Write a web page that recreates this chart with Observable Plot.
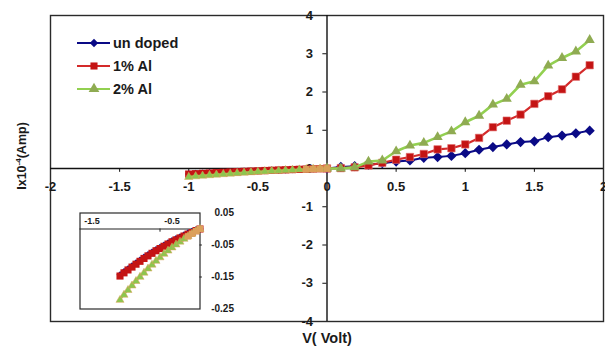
<!DOCTYPE html>
<html>
<head>
<meta charset="utf-8">
<script src="https://cdn.jsdelivr.net/npm/d3@7"></script>
<script src="https://cdn.jsdelivr.net/npm/@observablehq/plot@0.6"></script>
<style>
  html, body { margin: 0; padding: 0; background: white; }
  #chart { position: relative; width: 605px; height: 352px; overflow: hidden; background: white; }
</style>
</head>
<body>
<div id="chart"></div>
<script>
// ---- data ----
const seriesNames = ["un doped", "1% Al", "2% Al"];
const vPos = [0, 0.1, 0.2, 0.3, 0.4, 0.5, 0.6, 0.7, 0.8, 0.9, 1.0, 1.1, 1.2, 1.3, 1.4, 1.5, 1.6, 1.7, 1.8, 1.9];
const undopedPos = [0, 0.04, 0.06, 0.10, 0.14, 0.18, 0.21, 0.28, 0.30, 0.33, 0.40, 0.49, 0.56, 0.63, 0.69, 0.71, 0.82, 0.86, 0.92, 0.99];
const al1Pos = [0, 0.01, 0.03, 0.08, 0.15, 0.23, 0.30, 0.38, 0.50, 0.53, 0.63, 0.80, 1.08, 1.25, 1.41, 1.69, 1.89, 2.07, 2.40, 2.70];
const al2Pos = [0, 0.0, 0.03, 0.18, 0.21, 0.45, 0.60, 0.67, 0.82, 0.97, 1.21, 1.38, 1.67, 1.82, 2.19, 2.28, 2.69, 2.89, 3.06, 3.36];

const vNeg = [-1.0, -0.95, -0.9, -0.85, -0.8, -0.75, -0.7, -0.65, -0.6, -0.55, -0.5, -0.45, -0.4, -0.35, -0.3, -0.25, -0.2, -0.15, -0.1, -0.05, 0];
const undopedNeg = [-0.143, -0.133, -0.124, -0.115, -0.106, -0.097, -0.088, -0.080, -0.072, -0.064, -0.057, -0.050, -0.043, -0.036, -0.030, -0.024, -0.018, -0.012, -0.007, -0.002, 0];
const al1Neg = [-0.147, -0.137, -0.128, -0.119, -0.110, -0.101, -0.092, -0.084, -0.076, -0.068, -0.061, -0.054, -0.047, -0.040, -0.034, -0.028, -0.022, -0.016, -0.011, -0.005, 0];
const al2Neg = [-0.222, -0.206, -0.191, -0.177, -0.163, -0.150, -0.137, -0.124, -0.112, -0.100, -0.089, -0.078, -0.068, -0.058, -0.049, -0.040, -0.031, -0.023, -0.015, -0.007, 0];
const orangeX = [-0.15, -0.1, -0.05, 0];
const orangeY = [-0.023, -0.015, -0.007, 0];

const xTicks = [-1.5, -1, -0.5, 0.5, 1, 1.5];
const xTickLabels = [-2, -1.5, -1, -0.5, 0, 0.5, 1, 1.5, 2];
const yTicks = [-3, -2, -1, 1, 2, 3];
const yTickLabels = [-4, -3, -2, -1, 0, 1, 2, 3, 4];
const insetXTickLabels = [-1.5, -0.5];
const insetYTickLabels = [0.05, -0.05, -0.15, -0.25];

const colors = { blue: "#0a0a86", red: "#c41414", redLine: "#d42a2a", green: "#8fab52", greenBright: "#8cc64e", greenLine: "#92d050", orange: "#dca05a" };

// ---- tables ----
const toRows = (xs, ys) => xs.map((x, i) => ({ x, y: ys[i] }));
const blueNeg = toRows(vNeg, undopedNeg), bluePos = toRows(vPos, undopedPos);
const redNeg = toRows(vNeg, al1Neg), redPos = toRows(vPos, al1Pos);
const greenNeg = toRows(vNeg, al2Neg), greenPos = toRows(vPos, al2Pos);
const orangeRows = toRows(orangeX, orangeY);
const blueAll = blueNeg.concat(bluePos.slice(1));
const redAll = redNeg.concat(redPos.slice(1));
const greenAll = greenNeg.concat(greenPos.slice(1));
const fmt = d => String(d);

const font = "'Liberation Sans', Arial, Helvetica, sans-serif";

const main = Plot.plot({
  width: 605, height: 352,
  marginLeft: 50, marginRight: 2, marginTop: 15, marginBottom: 31,
  x: { domain: [-2, 2], axis: null },
  y: { domain: [-4, 4], axis: null },
  style: { fontFamily: font, fontWeight: "bold", fontSize: "13px", background: "white", color: "#1a1a1a", overflow: "visible" },
  marks: [
    Plot.frame({ stroke: "#2a2a2a", strokeWidth: 1.4 }),
    Plot.ruleX([0], { stroke: "#111", strokeWidth: 1.4 }),
    Plot.ruleY([0], { stroke: "#111", strokeWidth: 1.4 }),
    Plot.ruleX(xTicks, { x: d => d, y1: 0, y2: -0.1, stroke: "#111", strokeWidth: 1 }),
    Plot.ruleY(yTicks, { y: d => d, x1: -0.03, x2: 0, stroke: "#111", strokeWidth: 1 }),
    Plot.text(xTickLabels, { x: d => d, y: 0, dy: 18, text: fmt, fill: "#1a1a1a" }),
    Plot.text(yTickLabels, { x: 0, y: d => d, dx: -14, textAnchor: "end", text: fmt, fill: "#1a1a1a" }),
    // un doped
    Plot.line(blueAll, { x: "x", y: "y", stroke: colors.blue, strokeWidth: 2 }),
    Plot.dot(blueNeg, { x: "x", y: "y", symbol: "diamond2", r: 3.4, fill: colors.blue, stroke: "none" }),
    Plot.dot(bluePos, { x: "x", y: "y", symbol: "diamond2", r: 4.6, fill: colors.blue, stroke: "none" }),
    // 1% Al
    Plot.line(redAll, { x: "x", y: "y", stroke: colors.redLine, strokeWidth: 2.2 }),
    Plot.dot(redNeg, { x: "x", y: "y", symbol: "square", r: 4.1, fill: colors.red, stroke: "none" }),
    Plot.dot(redPos, { x: "x", y: "y", symbol: "square", r: 4.2, fill: colors.red, stroke: "#e27070", strokeWidth: 0.6 }),
    // 2% Al
    Plot.line(greenAll, { x: "x", y: "y", stroke: colors.greenLine, strokeWidth: 2.6 }),
    Plot.dot(greenNeg, { x: "x", y: "y", symbol: "triangle", r: 3.1, fill: colors.greenBright, stroke: colors.orange, strokeWidth: 0.5 }),
    Plot.dot(greenPos, { x: "x", y: "y", symbol: "triangle", r: 3.8, fill: colors.green, stroke: "none" }),
    Plot.dot(orangeRows, { x: "x", y: "y", symbol: "square", r: 3.8, fill: colors.orange, stroke: "none", fillOpacity: 0.95 }),
    Plot.text(["V( Volt)"], { frameAnchor: "bottom", dy: 21, text: d => d, fontSize: 14.5, fill: "#1a1a1a" })
  ]
});

const inset = Plot.plot({
  width: 121, height: 97,
  marginLeft: 0.5, marginRight: 0.5, marginTop: 0.5, marginBottom: 0.5,
  x: { domain: [-1.5, 0], axis: null },
  y: { domain: [-0.25, 0.05], axis: null },
  style: { fontFamily: font, fontWeight: "bold", fontSize: "9px", background: "white", overflow: "visible", color: "#1a1a1a" },
  marks: [
    Plot.frame({ stroke: "#2a2a2a", strokeWidth: 1.2 }),
    Plot.ruleY([0], { stroke: "#222", strokeWidth: 1.1 }),
    Plot.ruleX([-0.5], { y1: 0, y2: -0.01, stroke: "#222", strokeWidth: 1 }),
    Plot.ruleY(insetYTickLabels.slice(1, 3), { x1: 0, x2: 0.03, stroke: "#222", strokeWidth: 1 }),
    Plot.text(insetXTickLabels, { x: d => d, y: 0, dy: -8, dx: 12, text: fmt, fill: "#1a1a1a" }),
    Plot.text(insetYTickLabels, { x: 0, y: d => d, dx: 34, textAnchor: "end", text: fmt, fontSize: 10, fill: "#1a1a1a" }),
    Plot.line(blueNeg, { x: "x", y: "y", stroke: colors.blue, strokeWidth: 1.5 }),
    Plot.dot(blueNeg, { x: "x", y: "y", symbol: "diamond2", r: 3.2, fill: colors.blue, stroke: "none" }),
    Plot.line(redNeg, { x: "x", y: "y", stroke: colors.redLine, strokeWidth: 1.5 }),
    Plot.dot(redNeg, { x: "x", y: "y", symbol: "square", r: 4, fill: colors.red, stroke: "none" }),
    Plot.line(greenNeg, { x: "x", y: "y", stroke: colors.greenLine, strokeWidth: 1.5 }),
    Plot.dot(greenNeg, { x: "x", y: "y", symbol: "triangle", r: 3, fill: colors.greenBright, stroke: colors.orange, strokeWidth: 0.5 }),
    Plot.dot(orangeRows, { x: "x", y: "y", symbol: "square", r: 3.6, fill: colors.orange, stroke: "none" })
  ]
});

const chart = document.getElementById("chart");
main.style.position = "absolute"; main.style.left = "0px"; main.style.top = "0px";
inset.style.position = "absolute"; inset.style.left = "79px"; inset.style.top = "212px";
chart.append(main);
chart.append(inset);

// y-axis title with superscript
const svg = d3.select(main);
const yt = svg.append("text")
  .attr("transform", "translate(26,156) rotate(-90)")
  .attr("text-anchor", "middle")
  .attr("font-family", font).attr("font-weight", "bold").attr("font-size", 12.5).attr("fill", "#1a1a1a");
yt.append("tspan").text("Ix10");
yt.append("tspan").attr("font-size", 8).attr("dy", -5).text("-4");
yt.append("tspan").attr("dy", 5).text("(Amp)");

// legend
const legendItems = [
  { name: seriesNames[0], line: colors.blue, fill: colors.blue, symbol: d3.symbolDiamond2, size: 45 },
  { name: seriesNames[1], line: colors.redLine, fill: colors.red, symbol: d3.symbolSquare, size: 50 },
  { name: seriesNames[2], line: colors.greenLine, fill: colors.green, symbol: d3.symbolTriangle, size: 50 }
];
const lg = svg.append("g").attr("transform", "translate(77,43)");
legendItems.forEach((it, i) => {
  const g = lg.append("g").attr("transform", `translate(0,${i * 23})`);
  g.append("line").attr("x1", 0).attr("x2", 33).attr("y1", 0).attr("y2", 0).attr("stroke", it.line).attr("stroke-width", 2);
  g.append("path").attr("d", d3.symbol(it.symbol, it.size)()).attr("transform", "translate(17,0)").attr("fill", it.fill);
  g.append("text").attr("x", 36).attr("y", 0).attr("dy", "0.35em").attr("text-anchor", "start")
    .attr("font-family", font).attr("font-weight", "bold").attr("font-size", 14.5).attr("fill", "#1a1a1a").text(it.name);
});
</script>
</body>
</html>
